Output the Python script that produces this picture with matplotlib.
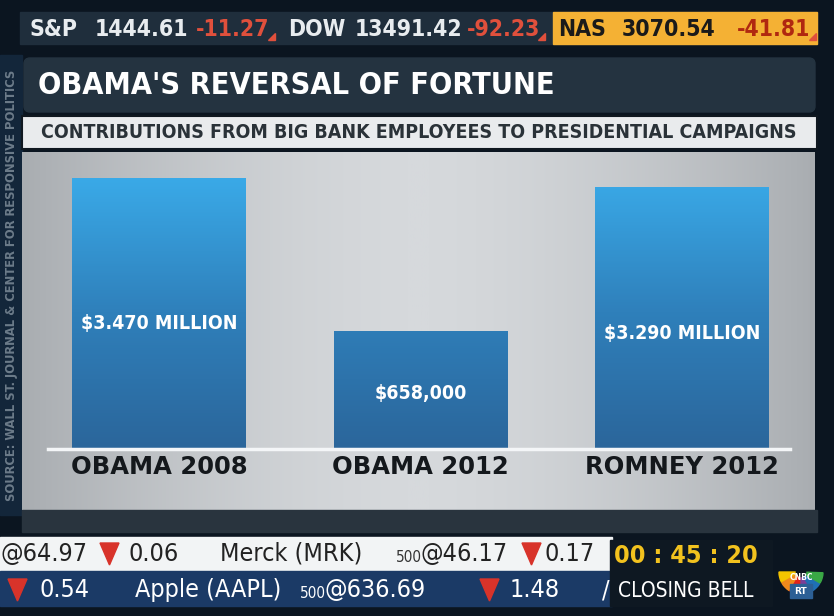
import numpy as np
import matplotlib.pyplot as plt
from matplotlib.patches import Rectangle, FancyBboxPatch, Polygon, Wedge
from matplotlib.colors import LinearSegmentedColormap

# chart data
categories = ['OBAMA 2008', 'OBAMA 2012', 'ROMNEY 2012']
value_labels = ['$3.470 MILLION', '$658,000', '$3.290 MILLION']
# drawn heights as they appear in the graphic (it is not to scale)
bar_heights = [3.47, 1.50, 3.35]
label_heights = [1.60, 0.70, 1.47]

title = "OBAMA'S REVERSAL OF FORTUNE"
subtitle = 'CONTRIBUTIONS FROM BIG BANK EMPLOYEES TO PRESIDENTIAL CAMPAIGNS'
source = 'SOURCE: WALL ST. JOURNAL & CENTER FOR RESPONSIVE POLITICS'

# ticker text
top_ticker = [('S&P', '1444.61', '-11.27'), ('DOW', '13491.42', '-92.23'), ('NAS', '3070.54', '-41.81')]

W, H = 834, 616
COND = dict(family='DejaVu Sans', fontstretch='condensed')

fig = plt.figure(figsize=(W / 100, H / 100), dpi=100)
fig.patch.set_facecolor('#0b1520')

bg = fig.add_axes([0, 0, 1, 1])
bg.set_xlim(0, W)
bg.set_ylim(H, 0)
bg.axis('off')

# left strip with the source
bg.add_patch(Rectangle((0, 55), 22, 460, color='#13263a'))
bg.text(12, 285, source, rotation=90, ha='center', va='center', color='#6c7b89',
        fontsize=9.3, fontweight='bold', **COND)

# top ticker
bg.add_patch(Rectangle((20, 12), 797, 32, color='#1f2e3c'))
bg.add_patch(Rectangle((553, 12), 264, 32, color='#f4b134'))
xs = [(30, 95, 196, 268), (288, 355, 467, 538), (558, 622, 737, 809)]
for (name, val, chg), (x1, x2, x3, xt) in zip(top_ticker, xs):
    on_box = name == 'NAS'
    c = '#1a1a1a' if on_box else '#e8ecef'
    cr = '#b02810' if on_box else '#e0503c'
    bg.text(x1, 29, name, color=c, fontsize=16.5, fontweight='bold', va='center', **COND)
    bg.text(x2, 29, val, color=c, fontsize=16.5, fontweight='bold', va='center', **COND)
    bg.text(x3, 29, chg, color=cr, fontsize=16.5, fontweight='bold', va='center', **COND)
    bg.add_patch(Polygon([[xt, 40], [xt + 7, 40], [xt + 7, 33]], color='#e0503c'))

# title panel
bg.add_patch(FancyBboxPatch((24, 58), 791, 54, boxstyle='round,pad=0,rounding_size=6',
                            color='#243340'))
bg.text(38, 86, title, color='white', fontsize=22, fontweight='bold', va='center', **COND)

# subtitle band
bg.add_patch(Rectangle((22, 116), 795, 33, color='#e9ebed', ec='#101820', lw=1.5))
bg.text(419, 133, subtitle, color='#2a3238', fontsize=14, fontweight='bold',
        ha='center', va='center', **COND)

# chart panel with a soft horizontal gradient
grad = np.abs(np.linspace(-1, 1, 400)) ** 1.6
panel_cmap = LinearSegmentedColormap.from_list('panel', ['#d6d9dc', '#a9adb1'])
bg.imshow(grad[None, :], extent=(22, 815, 510, 152), cmap=panel_cmap, aspect='auto', zorder=1)
bg.add_patch(Rectangle((22, 510), 795, 22, color='#29343e', zorder=1))

# bottom ticker
bg.add_patch(Rectangle((0, 537), 612, 34, color='#f2f4f5'))
bg.add_patch(Rectangle((0, 571), 612, 35, color='#1b3a66'))


def down(x, y, w=19, h=22, c='#d8332a'):
    bg.add_patch(Polygon([[x, y], [x + w, y], [x + w / 2, y + h]], color=c))


row1 = dict(color='#222', fontsize=18, va='center', **COND)
row2 = dict(color='white', fontsize=18, va='center', **COND)
bg.text(1, 554, '@64.97', **row1)
down(100, 543)
bg.text(128, 554, '0.06', **row1)
bg.text(220, 554, 'Merck (MRK)', **row1)
bg.text(396, 557, '500', color='#333', fontsize=11, va='center', **COND)
bg.text(421, 554, '@46.17', **row1)
down(522, 543)
bg.text(545, 554, '0.17', **row1)

down(8, 579)
bg.text(40, 590, '0.54', **row2)
bg.text(135, 590, 'Apple (AAPL)', **row2)
bg.text(300, 593, '500', color='white', fontsize=11, va='center', **COND)
bg.text(325, 590, '@636.69', **row2)
down(480, 579)
bg.text(510, 590, '1.48', **row2)
bg.text(602, 590, '/', **row2)

# clock box
bg.add_patch(Rectangle((610, 540), 162, 66, color='#0e1822'))
bg.text(686, 556, '00 : 45 : 20', color='#f2c21e', fontsize=18, fontweight='bold',
        ha='center', va='center', **COND)
bg.text(686, 591, 'CLOSING BELL', color='white', fontsize=15, ha='center', va='center', **COND)

# small peacock logo
for i, col in enumerate(['#f5c400', '#f08a1c', '#e2231a', '#7a3f98', '#1f6fb5', '#3aa845']):
    bg.add_patch(Wedge((801, 572), 22, 180 - i * 30 - 28, 180 - i * 30, color=col, width=16))
bg.text(801, 577, 'CNBC', color='white', fontsize=5.5, ha='center', va='center', fontweight='bold')
bg.add_patch(Rectangle((790, 584), 22, 14, color='#2c5f95'))
bg.text(801, 591, 'RT', color='white', fontsize=6.5, ha='center', va='center', fontweight='bold')

# bar chart axes: x from 48 to 790 px, y from baseline 448 up to 152
ax = fig.add_axes([48 / W, (H - 448) / H, 742 / W, 296 / H])
ax.patch.set_alpha(0)
ax.axis('off')
x = np.arange(len(categories))
width = 0.664
ymax = 296 / 77.8

bar_cmap = LinearSegmentedColormap.from_list('bar', ['#2b669b', '#2f80bb', '#3aaae8'])
bars = ax.bar(x, bar_heights, width, color='none')
for b, h in zip(bars, bar_heights):
    x0 = b.get_x()
    g = np.linspace(0, h, 200)[::-1, None]
    ax.imshow(g, extent=(x0, x0 + width, 0, h), cmap=bar_cmap, vmin=0, vmax=3.5,
              aspect='auto', zorder=2)
ax.set_xlim(-0.424, 2.412)
ax.set_ylim(0, ymax)

# baseline
ax.axhline(-0.01, color='#f4f6f8', lw=2.5, clip_on=False, zorder=3)

for xi, lab, ly in zip(x, value_labels, label_heights):
    ax.text(xi, ly, lab, color='white', fontsize=14, fontweight='bold',
            ha='center', va='center', zorder=4, **COND)
for xi, cat in zip(x, categories):
    ax.text(xi, -0.24, cat, color='#14181c', fontsize=17.5, fontweight='bold',
            ha='center', va='center', zorder=4)

fig.savefig('out.png', dpi=100, facecolor=fig.get_facecolor())
